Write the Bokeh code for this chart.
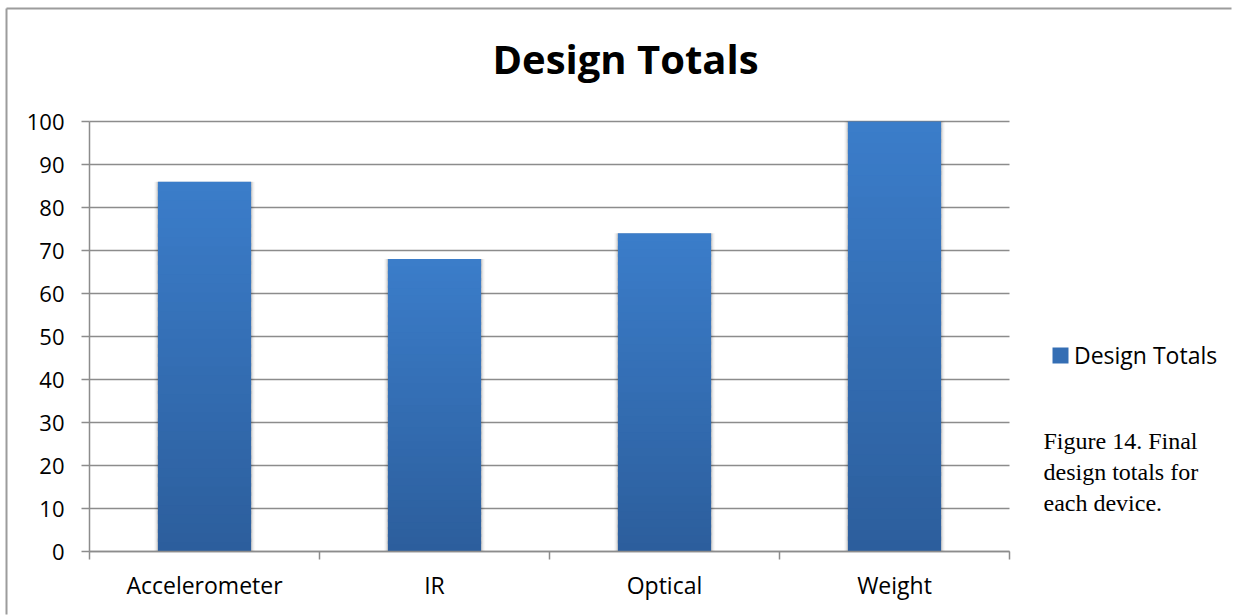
from bokeh.plotting import figure
from bokeh.models import (ColumnDataSource, FixedTicker, LinearAxis, Range1d,
                          Label, Legend, LegendItem)
from bokeh.embed import file_html
from bokeh.resources import INLINE

# Data
categories = ["Accelerometer", "IR", "Optical", "Weight"]
totals = [86, 68, 74, 100]
y_ticks = [0, 10, 20, 30, 40, 50, 60, 70, 80, 90, 100]
caption_lines = ["Figure 14. Final", "design totals for", "each device."]

W, H = 1233, 615
# plot area edges on the canvas (pixels from top-left)
PL, PR, PT, PB = 89, 1009, 121, 551
GRAY = "#8c8c8c"
SANS = "Open Sans"
BAR_W = 0.405
TOP_RGB = (0x3b, 0x7d, 0xca)
BOT_RGB = (0x2c, 0x5e, 0x9c)

n = len(categories)
y_max = y_ticks[-1]
xpx = (PR - PL) / n          # pixels per category
ypx = (PB - PT) / y_max      # pixels per unit
x_range = Range1d(-PL / xpx, n + (W - PR) / xpx)
y_range = Range1d(-(H - PB) / ypx, y_max + PT / ypx)

# The frame spans the whole canvas; axes sit at fixed data positions
p = figure(width=W, height=H, output_backend="svg", toolbar_location=None,
           x_range=x_range, y_range=y_range,
           x_axis_location=None, y_axis_location=None, min_border=0)
p.outline_line_color = None
p.background_fill_color = "white"
p.border_fill_color = "white"
p.grid.visible = False

# Outer chart border (left and top edges, running almost to the canvas edges)
bx = x_range.start + 6 / xpx
by = y_range.end - 8 / ypx
p.segment(x0=[bx, bx], y0=[by, by],
          x1=[x_range.end - 2 / xpx, bx], y1=[by, y_range.start + 1 / ypx],
          line_color="#9c9c9c", line_width=2)

# Horizontal gridlines across the plot area
p.segment(x0=[0] * len(y_ticks), x1=[n] * len(y_ticks), y0=y_ticks, y1=y_ticks,
          line_color=GRAY, line_width=1.5)

# Axes
yax = LinearAxis(ticker=FixedTicker(ticks=y_ticks, minor_ticks=[]),
                 fixed_location=0, bounds=(0, y_max))
yax.axis_line_color = GRAY
yax.axis_line_width = 1.5
yax.major_tick_line_color = GRAY
yax.major_tick_line_width = 1.5
yax.major_tick_in = 0
yax.major_tick_out = 8
yax.minor_tick_line_color = None
yax.major_label_standoff = 17
yax.major_label_text_font = SANS
yax.major_label_text_font_size = "22px"
yax.major_label_text_color = "black"
p.add_layout(yax, "left")

centers = [i + 0.5 for i in range(n)]
xax = LinearAxis(ticker=FixedTicker(ticks=centers, minor_ticks=list(range(n + 1))),
                 fixed_location=0, bounds=(0, n))
xax.major_label_overrides = {c: name for c, name in zip(centers, categories)}
xax.axis_line_color = GRAY
xax.axis_line_width = 1.5
xax.major_tick_line_color = None
xax.major_tick_in = 0
xax.major_tick_out = 0
xax.minor_tick_line_color = GRAY
xax.minor_tick_line_width = 1.5
xax.minor_tick_in = 0
xax.minor_tick_out = 8
xax.major_label_standoff = 9
xax.major_label_text_font = SANS
xax.major_label_text_font_size = "23px"
xax.major_label_text_color = "black"
p.add_layout(xax, "below")

# Soft shadow around each bar
for extra, alpha in [(0.03, 0.05), (0.018, 0.07), (0.008, 0.09)]:
    p.vbar(x=centers, top=totals, bottom=0, width=BAR_W + extra,
           fill_color="#000000", fill_alpha=alpha, line_color=None)

# Bars with a vertical gradient, built as stacked strips
N = 40
xs, bots, tops, cols = [], [], [], []
for c, v in zip(centers, totals):
    for k in range(N):
        t = (k + 0.5) / N
        rgb = tuple(round(b + (a - b) * t) for a, b in zip(TOP_RGB, BOT_RGB))
        xs.append(c)
        bots.append(v * k / N)
        tops.append(min(v, v * (k + 1.4) / N))
        cols.append("#%02x%02x%02x" % rgb)
src = ColumnDataSource(dict(x=xs, bottom=bots, top=tops, color=cols))
bars = p.vbar(x="x", bottom="bottom", top="top", width=BAR_W, source=src,
              fill_color="color", line_color=None)

legend = Legend(items=[LegendItem(label="Design Totals", renderers=[bars], index=N // 2)],
                location=(1050, H - 371), padding=0, margin=0, spacing=0,
                glyph_width=20, glyph_height=20, label_standoff=4,
                label_text_font=SANS, label_text_font_size="23px",
                label_text_color="black", border_line_color=None,
                background_fill_alpha=0)
p.add_layout(legend, "center")

# Chart title
p.add_layout(Label(x=625, y=H - 58, x_units="screen", y_units="screen",
                   text="Design Totals", text_font=SANS, text_font_size="40px",
                   text_font_style="bold", text_align="center",
                   text_baseline="alphabetic", text_color="black"))

# Figure caption beside the chart
for line, base in zip(caption_lines, [440, 471, 502]):
    p.add_layout(Label(x=1043, y=H - base, x_units="screen", y_units="screen",
                       text=line, text_font="Liberation Serif", text_font_size="24px",
                       text_baseline="alphabetic", text_color="black"))

open("out.html", "w").write(file_html(p, INLINE))
